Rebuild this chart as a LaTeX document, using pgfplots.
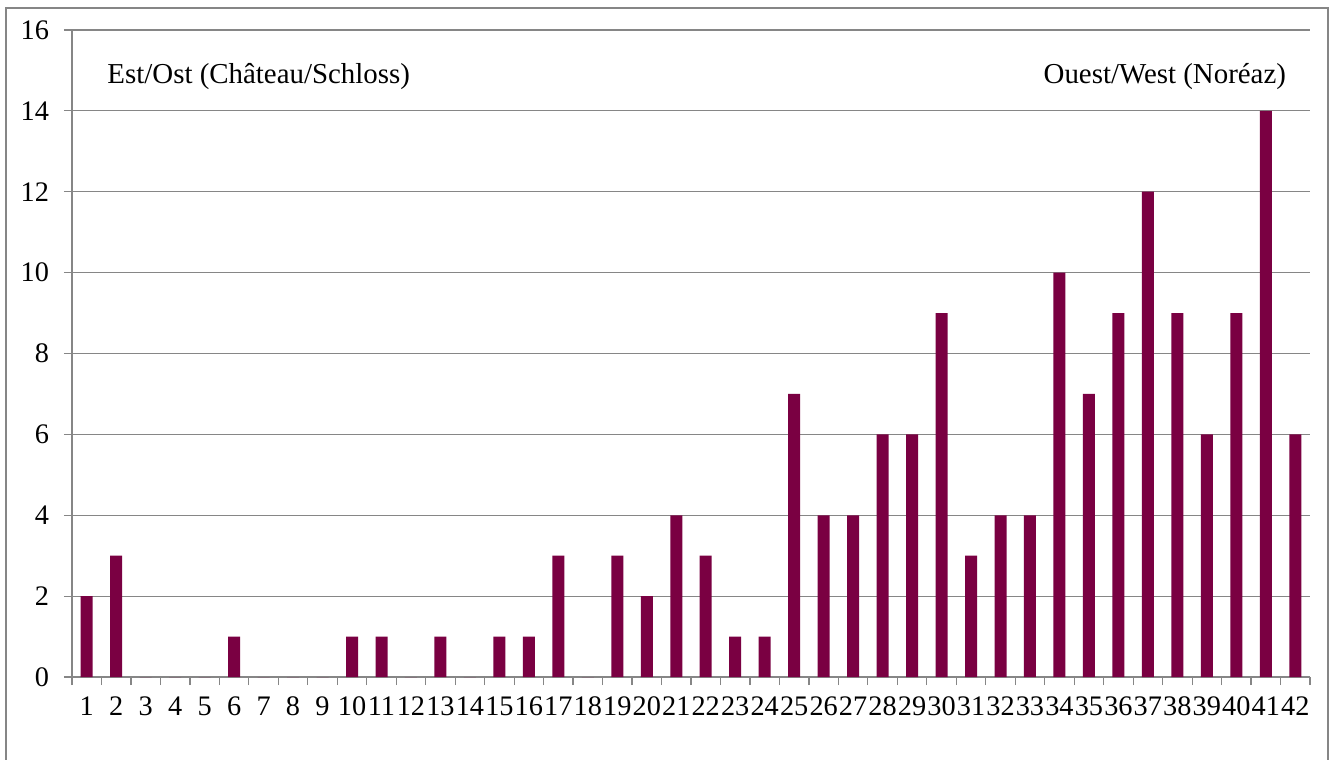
\documentclass[border=0pt]{standalone}
\usepackage{fontspec}
\setmainfont{Liberation Serif}
\usepackage{pgfplots}
\pgfplotsset{compat=1.18}
\definecolor{barcol}{RGB}{122,0,66}
\definecolor{gridcol}{RGB}{134,134,134}
\begin{document}
\begin{tikzpicture}
\clip (-36bp,-41.5bp) rectangle (629.5bp,338.5bp);
\draw[gridcol,line width=0.6bp] (-33bp,-60bp) rectangle (628bp,334.5bp);
\begin{axis}[
 at={(0,0)},anchor=origin,
 scale only axis,
 width=619bp,height=323.5bp,
 xmin=0.5,xmax=42.5,ymin=0,ymax=16,
 axis lines*=left,
 axis line style={gridcol,line width=0.6bp},
 ytick={0,2,...,16},
 ymajorgrids,grid style={gridcol,line width=0.6bp},
 xtick={0.5,1.5,...,42.5},
 x tick label as interval,
 xticklabel={\pgfmathparse{int(\tick+0.5)}\pgfmathresult},
 tick align=outside,
 major tick length=4bp,
 tick style={gridcol,line width=0.6bp},
 tick label style={font=\fontsize{14.2}{17}\selectfont},
 /pgf/number format/assume math mode=true,
 xticklabel style={inner xsep=0pt,yshift=-2.5bp},
 yticklabel style={xshift=-4bp},
]
\addplot[ybar,bar width=6bp,fill=barcol,draw=none] coordinates {
(1,2) (2,3) (3,0) (4,0) (5,0) (6,1) (7,0) (8,0) (9,0) (10,1)
(11,1) (12,0) (13,1) (14,0) (15,1) (16,1) (17,3) (18,0) (19,3) (20,2)
(21,4) (22,3) (23,1) (24,1) (25,7) (26,4) (27,4) (28,6) (29,6) (30,9)
(31,3) (32,4) (33,4) (34,10) (35,7) (36,9) (37,12) (38,9) (39,6) (40,9)
(41,14) (42,6)
};
\node[anchor=west,font=\fontsize{14.5}{17}\selectfont,inner sep=0pt] at (axis cs:1.69,14.85) {Est/Ost (Château/Schloss)};
\node[anchor=east,font=\fontsize{14.5}{17}\selectfont,inner sep=0pt] at (axis cs:41.7,14.85) {Ouest/West (Noréaz)};
\end{axis}
\end{tikzpicture}
\end{document}
